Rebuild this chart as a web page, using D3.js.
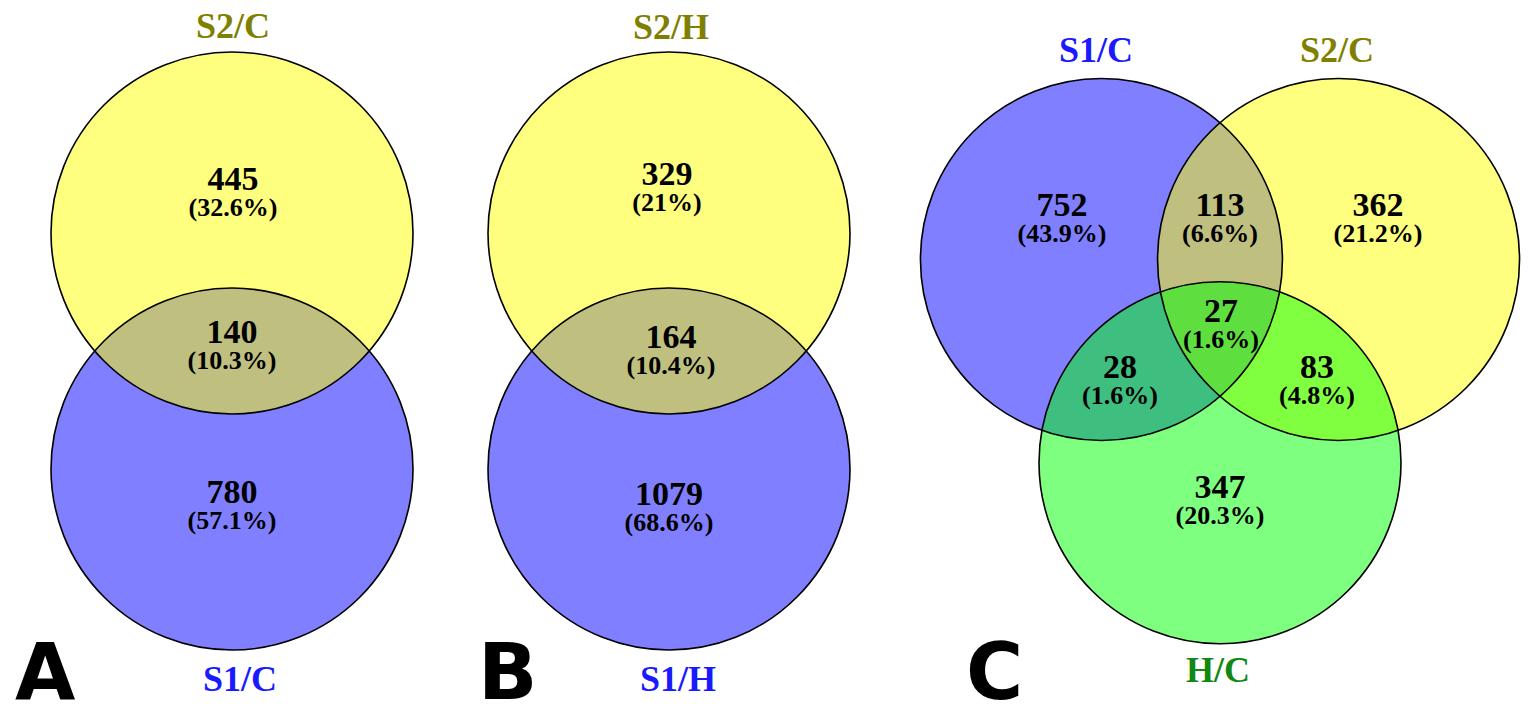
<!DOCTYPE html>
<html>
<head>
<meta charset="utf-8">
<script src="https://cdn.jsdelivr.net/npm/d3@7"></script>
<style>
  body { margin: 0; background: #fff; }
  svg { display: block; }
</style>
</head>
<body>
<svg id="chart" width="1531" height="717"></svg>
<script>
// ── Data ─────────────────────────────────────────────────────────

// Panel A: S1/C vs S2/C
const setsA   = ['S1/C', 'S2/C'];
const regionsA = ['S1/C', 'S2/C', 'S1/C&S2/C'];
const countsA = [780, 445, 140];
const pctsA   = ['57.1%', '32.6%', '10.3%'];

// Panel B: S1/H vs S2/H
const setsB   = ['S1/H', 'S2/H'];
const regionsB = ['S1/H', 'S2/H', 'S1/H&S2/H'];
const countsB = [1079, 329, 164];
const pctsB   = ['68.6%', '21%', '10.4%'];

// Panel C: S1/C, S2/C, H/C
const setsC   = ['S1/C', 'S2/C', 'H/C'];
const regionsC = ['S1/C', 'S2/C', 'H/C', 'S1/C&S2/C', 'S1/C&H/C', 'S2/C&H/C', 'all'];
const countsC = [752, 362, 347, 113, 28, 83, 27];
const pctsC   = ['43.9%', '21.2%', '20.3%', '6.6%', '1.6%', '4.8%', '1.6%'];

// ── Styles ───────────────────────────────────────────────────────

const FILL = { S1: '#0000ff', S2: '#ffff00', H: '#00ff00' };
const TEXT = { S1: '#1a1aff', S2: '#808000', H: '#118811' };
const kind = name => name.startsWith('S1') ? 'S1' : name.startsWith('S2') ? 'S2' : 'H';

const SERIF = '"Liberation Serif", "Times New Roman", serif';
const NUM_FS = 34, PCT_FS = 26, CAT_FS = 36, LETTER_FS = 78;

// ── Layout (unit circles, radius = 1) ────────────────────────────

const R_PX = 181;

const panels = [
  {
    letter: 'A', letterX: 15, sets: setsA, counts: countsA, pcts: pctsA,
    origin: [232, 351],
    // circle centres in units of the radius, drawn in this order
    circles: [{ set: 0, u: [0, 0.652] }, { set: 1, u: [0, -0.652] }],
    cats: [{ set: 1, at: [233, 26] }, { set: 0, at: [240, 679] }],
    labels: [[232, 491], [233, 178], [232, 331]],
  },
  {
    letter: 'B', letterX: 478, sets: setsB, counts: countsB, pcts: pctsB,
    origin: [669, 351],
    circles: [{ set: 0, u: [0, 0.652] }, { set: 1, u: [0, -0.652] }],
    cats: [{ set: 1, at: [671, 27] }, { set: 0, at: [678, 679] }],
    labels: [[669, 493], [667, 173], [671, 336]],
  },
  {
    letter: 'C', letterX: 966, sets: setsC, counts: countsC, pcts: pctsC,
    origin: [1220, 327],
    circles: [
      { set: 0, u: [-0.655, -0.373] },
      { set: 1, u: [0.655, -0.373] },
      { set: 2, u: [0, 0.75] },
    ],
    cats: [{ set: 0, at: [1096, 50] }, { set: 1, at: [1337, 50] }, { set: 2, at: [1218, 670] }],
    labels: [[1062, 204], [1378, 204], [1220, 486], [1220, 204], [1120, 366], [1317, 366], [1221, 310]],
  },
];

// ── Drawing ──────────────────────────────────────────────────────

const svg = d3.select('#chart');

panels.forEach(p => {
  const x = d3.scaleLinear().domain([-1, 1]).range([p.origin[0] - R_PX, p.origin[0] + R_PX]);
  const y = d3.scaleLinear().domain([-1, 1]).range([p.origin[1] - R_PX, p.origin[1] + R_PX]);
  const g = svg.append('g').attr('class', 'panel panel-' + p.letter);

  // circles, semi-transparent so overlaps mix
  g.selectAll('circle.set')
    .data(p.circles)
    .join('circle')
    .attr('class', 'set')
    .attr('cx', d => x(d.u[0]))
    .attr('cy', d => y(d.u[1]))
    .attr('r', x(1) - x(0))
    .attr('fill', d => FILL[kind(p.sets[d.set])])
    .attr('fill-opacity', 0.5)
    .attr('stroke', 'none');

  // outlines on top
  g.selectAll('circle.outline')
    .data(p.circles)
    .join('circle')
    .attr('class', 'outline')
    .attr('cx', d => x(d.u[0]))
    .attr('cy', d => y(d.u[1]))
    .attr('r', x(1) - x(0))
    .attr('fill', 'none')
    .attr('stroke', '#000')
    .attr('stroke-width', 1.6);

  // region counts + percentages
  const lab = g.selectAll('g.region')
    .data(p.counts.map((c, i) => ({ count: c, pct: p.pcts[i], at: p.labels[i] })))
    .join('g')
    .attr('class', 'region')
    .attr('font-family', SERIF)
    .attr('font-weight', 'bold')
    .attr('text-anchor', 'middle')
    .attr('fill', '#000');

  lab.append('text')
    .attr('x', d => d.at[0])
    .attr('y', d => d.at[1] + NUM_FS * 0.34)
    .attr('font-size', NUM_FS)
    .text(d => d.count);

  lab.append('text')
    .attr('x', d => d.at[0])
    .attr('y', d => d.at[1] + 29 + PCT_FS * 0.34)
    .attr('font-size', PCT_FS)
    .text(d => '(' + d.pct + ')');

  // category names
  g.selectAll('text.cat')
    .data(p.cats)
    .join('text')
    .attr('class', 'cat')
    .attr('x', d => d.at[0])
    .attr('y', d => d.at[1] + CAT_FS * 0.34)
    .attr('text-anchor', 'middle')
    .attr('font-family', SERIF)
    .attr('font-weight', 'bold')
    .attr('font-size', CAT_FS)
    .attr('fill', d => TEXT[kind(p.sets[d.set])])
    .text(d => p.sets[d.set]);

  // panel letter
  g.append('text')
    .attr('x', p.letterX)
    .attr('y', 699)
    .attr('font-family', '"DejaVu Sans", Verdana, sans-serif')
    .attr('font-weight', 'bold')
    .attr('font-size', LETTER_FS)
    .attr('fill', '#000')
    .text(p.letter);
});
</script>
</body>
</html>
